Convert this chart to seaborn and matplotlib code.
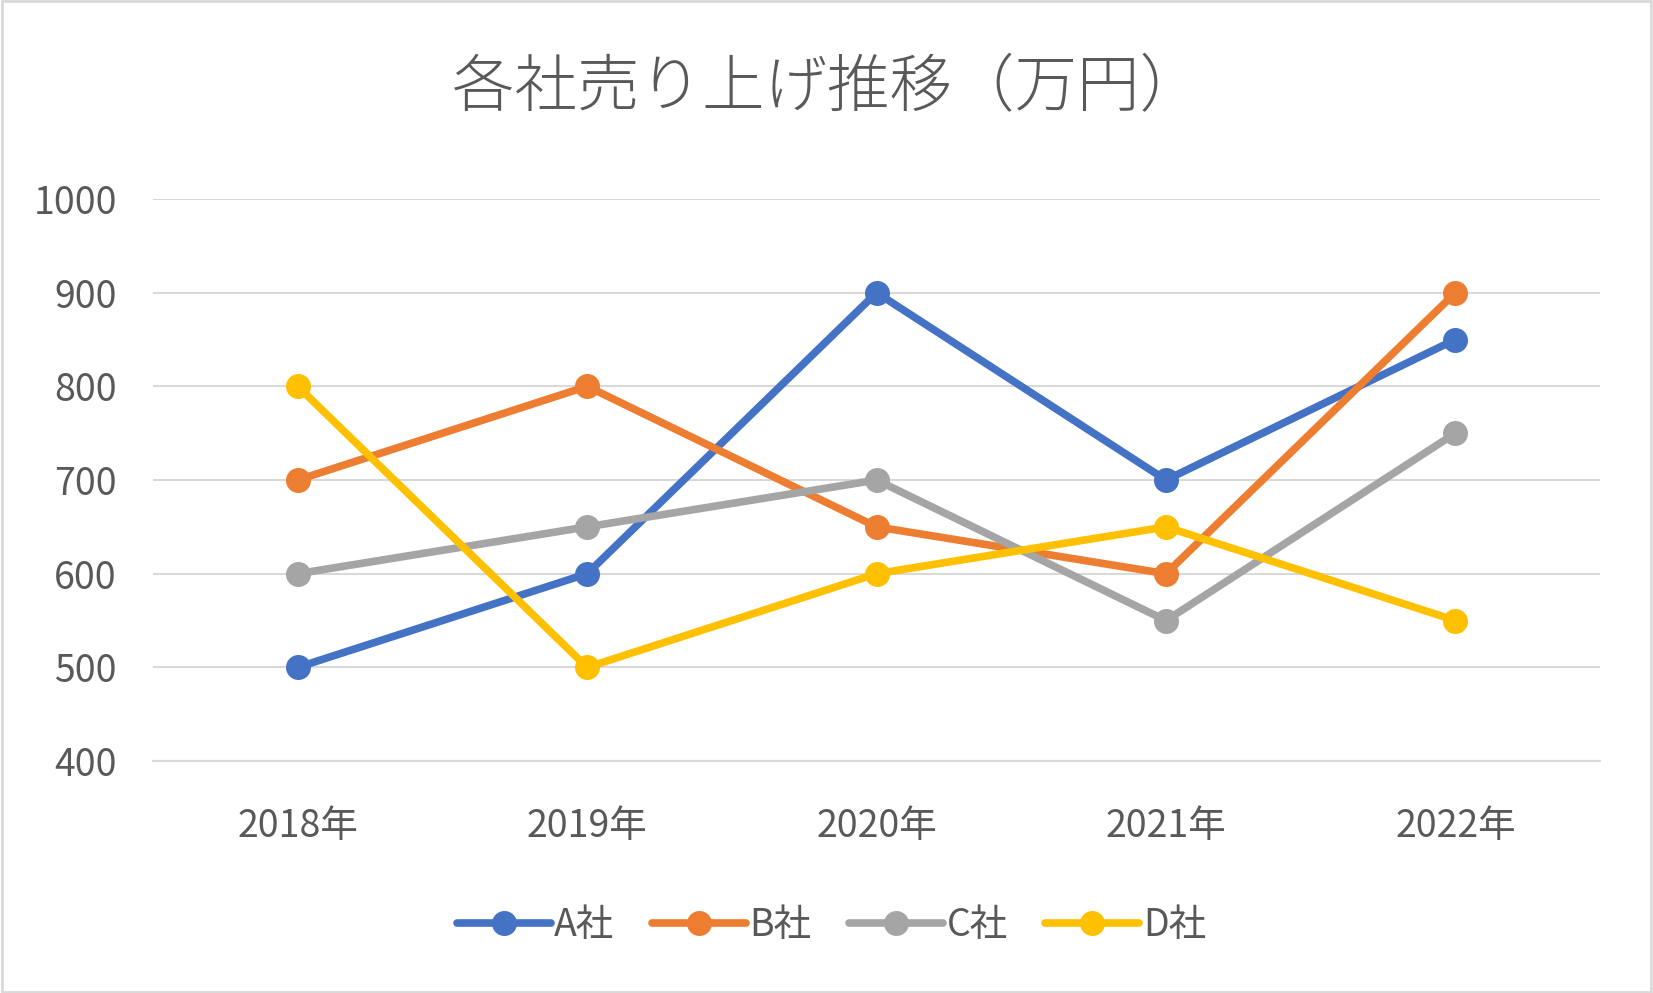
import numpy as np
import pandas as pd
import seaborn as sns
import matplotlib.pyplot as plt

years = ["2018年", "2019年", "2020年", "2021年", "2022年"]
companies = ["A社", "B社", "C社", "D社"]
sales_a = [500, 600, 900, 700, 850]
sales_b = [700, 800, 650, 600, 900]
sales_c = [600, 650, 700, 550, 750]
sales_d = [800, 500, 600, 650, 550]
colors = ["#4472C4", "#ED7D31", "#A5A5A5", "#FFC000"]

sns.set_style("white")
plt.rcParams['font.family'] = ['Noto Sans CJK JP', 'DejaVu Sans']

# long format for seaborn
df = pd.DataFrame({
    "pos": list(range(len(years))) * 4,
    "sales": sales_a + sales_b + sales_c + sales_d,
    "company": [c for c in companies for _ in years],
})

fig = plt.figure(figsize=(16.53, 9.93), dpi=100)
ax = fig.add_axes([0.0926, 0.2336, 0.8754, 0.566])

sns.lineplot(data=df, x="pos", y="sales", hue="company", palette=colors,
             marker="o", markersize=18, markeredgewidth=0, linewidth=5.5,
             ax=ax, legend=False)

ax.set_xlim(-0.5, 4.5)
ax.set_ylim(400, 1000)
ax.set_yticks(np.arange(400, 1001, 100))
ax.set_xticks(range(len(years)))
ax.set_xticklabels(years)
ax.set_xlabel("")
ax.set_ylabel("")
ax.grid(axis="y", color="#D9D9D9", linewidth=1.5)
ax.set_axisbelow(True)
for s in ax.spines.values():
    s.set_visible(False)
ax.spines["bottom"].set_visible(True)
ax.spines["bottom"].set_color("#D9D9D9")
ax.spines["bottom"].set_linewidth(1.5)
ax.tick_params(axis="both", length=0, labelsize=27, colors="#595959")
ax.tick_params(axis="y", pad=26)
ax.tick_params(axis="x", pad=33)

fig.text(0.5, 0.91, "各社売り上げ推移（万円）", ha="center", va="center",
         fontsize=45, color="#595959", fontweight="light")

handles = [plt.Line2D([], [], color=c, linewidth=5.5, marker="o", markersize=18,
                      markeredgewidth=0) for c in colors]
fig.legend(handles, companies, loc="center", bbox_to_anchor=(0.503, 0.068), ncol=4,
           frameon=False, fontsize=27, labelcolor="#595959", handlelength=2.5,
           columnspacing=1.0, handletextpad=0.1)

# outer border like Excel chart area
fig.patches.append(plt.Rectangle((0.001, 0.001), 0.998, 0.998, transform=fig.transFigure,
                                 fill=False, edgecolor="#D9D9D9", linewidth=2))

fig.savefig("out.png", dpi=100)
